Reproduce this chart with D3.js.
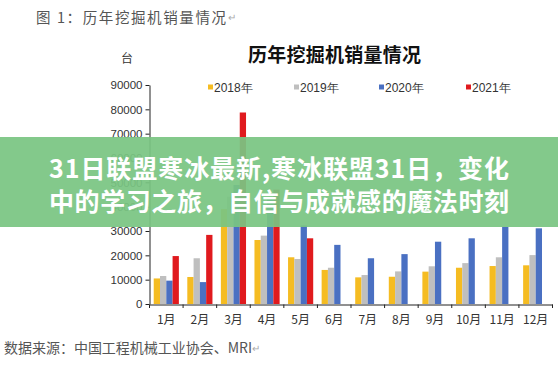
<!DOCTYPE html>
<html><head><meta charset="utf-8">
<script src="https://cdn.jsdelivr.net/npm/d3@7"></script>
<style>
html,body{margin:0;padding:0;background:#fff;}
svg{display:block;}
</style></head>
<body>
<svg id="c" width="558" height="365"></svg>
<script>
const months = ["1月","2月","3月","4月","5月","6月","7月","8月","9月","10月","11月","12月"];
const seriesNames = ["2018年","2019年","2020年","2021年"];
const colors = ["#F5BC22","#BFBFBF","#4A70C2","#E01A1E"];
const v2018 = [10500,11100,39000,26300,19200,14000,10950,11200,13300,14900,15600,15900];
const v2019 = [11500,18800,44100,28100,18500,14900,11900,13400,15500,16800,19200,20100];
const v2020 = [9600,9000,48900,43300,32300,24300,18800,20500,25600,27000,31700,31100];
const v2021 = [19700,28400,78700,47000,27000,null,null,null,null,null,null,null];
const yTicks = [0,10000,20000,30000,40000,50000,60000,70000,80000,90000];
const figTitle = "图 1：历年挖掘机销量情况";
const chartTitle = "历年挖掘机销量情况";
const unitLabel = "台";
const sourceText = "数据来源：中国工程机械工业协会、MRI";
const bannerLines = ["31日联盟寒冰最新,寒冰联盟31日，变化","中的学习之旅，自信与成就感的魔法时刻"];

const allSeries = [v2018,v2019,v2020,v2021];
const svg = d3.select("#c");
const cjk = "'Noto Sans CJK SC','Noto Sans',sans-serif";
const lat = "Arial,'Liberation Sans',sans-serif";

const x0 = d3.scaleBand().domain(months).range([149.5,552.5]).padding(0);
const x1 = d3.scaleBand().domain(seriesNames).range([0,x0.bandwidth()]).paddingInner(0).paddingOuter(0.67);
const y = d3.scaleLinear().domain([0,90000]).range([304,85]);

// figure title
const ft = svg.append("text").attr("x",36).attr("y",16).attr("dominant-baseline","central")
  .style("font-family",cjk).style("font-size","14.5px").attr("fill","#555");
ft.append("tspan").text(figTitle).attr("textLength",190).attr("lengthAdjust","spacing");
ft.append("tspan").text("↵").attr("fill","#aaa").style("font-size","10px");

// chart title
svg.append("text").attr("x",334.5).attr("y",53).attr("text-anchor","middle").attr("dominant-baseline","central")
  .style("font-family",cjk).style("font-size","19px").style("font-weight","700").attr("fill","#111")
  .attr("textLength",173).attr("lengthAdjust","spacing").text(chartTitle);

// unit
svg.append("text").attr("x",127).attr("y",57).attr("text-anchor","middle").attr("dominant-baseline","central")
  .style("font-family",cjk).style("font-size","12px").attr("fill","#333").text(unitLabel);

// legend
const legX = [208,294,379,466];
const leg = svg.append("g");
seriesNames.forEach((s,i)=>{
  leg.append("rect").attr("x",legX[i]).attr("y",84.5).attr("width",5).attr("height",5).attr("fill",colors[i]);
  leg.append("text").attr("x",legX[i]+6).attr("y",87.5).attr("dominant-baseline","central")
    .style("font-family",lat).style("font-size","12px").attr("fill","#333").text(s);
});

// bars
const g = svg.append("g");
allSeries.forEach((arr,si)=>{
  g.selectAll(null).data(arr.map((v,i)=>({m:months[i],v})).filter(d=>d.v!=null)).join("rect")
    .attr("x",d=>x0(d.m)+x1(seriesNames[si]))
    .attr("width",x1.bandwidth())
    .attr("y",d=>y(d.v))
    .attr("height",d=>y(0)-y(d.v))
    .attr("fill",colors[si]);
});

// y axis
const ya = svg.append("g").attr("transform","translate(149.5,0)")
  .call(d3.axisLeft(y).tickValues(yTicks).tickFormat(d3.format("d")).tickSize(4).tickSizeOuter(0));
ya.select(".domain").attr("stroke","#222");
ya.selectAll(".tick line").attr("stroke","#222");
ya.selectAll("text").style("font-family",lat).style("font-size","11.5px").attr("fill","#333").attr("x",-7);

// x axis
const xa = svg.append("g").attr("transform","translate(0,304.5)")
  .call(d3.axisBottom(x0).tickSize(0).tickSizeOuter(0));
xa.select(".domain").attr("stroke","#222");
xa.selectAll("text").style("font-family",cjk).style("font-size","12px").attr("fill","#333").attr("dy","0").attr("y",19);
const bounds = months.map(m=>x0(m)).concat([x0.range()[1]]);
svg.append("g").selectAll("line").data(bounds).join("line")
  .attr("x1",d=>d).attr("x2",d=>d).attr("y1",304.5).attr("y2",308).attr("stroke","#222");

// source
const st = svg.append("text").attr("x",4).attr("y",347).attr("dominant-baseline","central")
  .style("font-family",cjk).style("font-size","14px").attr("fill","#555");
st.append("tspan").text(sourceText).attr("textLength",248).attr("lengthAdjust","spacing");
st.append("tspan").text("↵").attr("fill","#aaa").style("font-size","10px");

// banner overlay
svg.append("rect").attr("x",0).attr("y",137).attr("width",558).attr("height",90)
  .attr("fill","rgb(122,197,130)").attr("opacity",0.93);
bannerLines.forEach((t,i)=>{
  svg.append("text").attr("x",279).attr("y",167+i*33).attr("text-anchor","middle").attr("dominant-baseline","central")
    .style("font-family",cjk).style("font-size","25px").style("font-weight","700").attr("fill","#fff")
    .attr("textLength",460).attr("lengthAdjust","spacing").text(t);
});
</script>
</body></html>
